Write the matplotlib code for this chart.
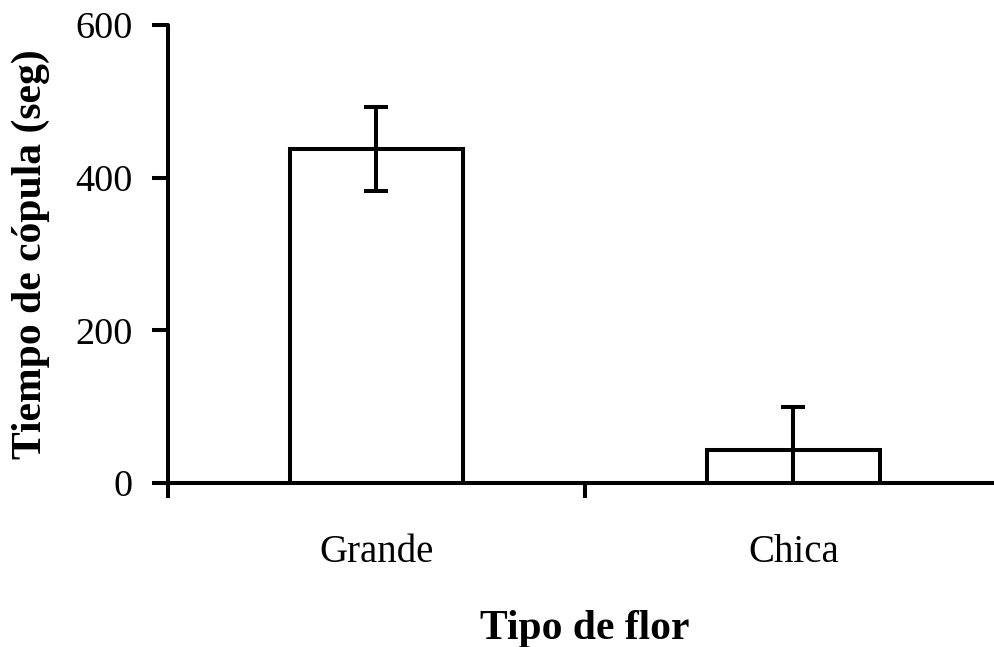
import matplotlib
matplotlib.use("Agg")
import matplotlib.pyplot as plt
from matplotlib.ticker import FixedLocator, NullFormatter, FixedFormatter

categories = ["Grande", "Chica"]
means = [437, 43]
errors = [55, 57]
y_ticks = [0, 200, 400, 600]

plt.rcParams["font.family"] = ["Liberation Serif", "DejaVu Serif"]

fig = plt.figure(figsize=(9.95, 6.47), dpi=100)
ax = fig.add_axes([0.1688, 0.2535, 0.838, 0.708])

lw = 2.9
x = list(range(len(categories)))
ax.bar(x, means, width=0.415, color="white", edgecolor="black", linewidth=lw, zorder=2)
ax.errorbar(x, means, yerr=errors, fmt="none", ecolor="black", elinewidth=lw,
            capsize=8.6, capthick=lw, zorder=3)

ax.set_xlim(-0.5, 1.5)
ax.set_ylim(0, 600)

for s in ["top", "right"]:
    ax.spines[s].set_visible(False)
for s in ["left", "bottom"]:
    ax.spines[s].set_linewidth(lw)
    ax.spines[s].set_capstyle("round")

ax.set_yticks(y_ticks)
ax.tick_params(axis="y", direction="out", length=11.5, width=lw, labelsize=27.5, pad=14)

ax.xaxis.set_major_locator(FixedLocator([-0.5, 0.5, 1.5]))
ax.xaxis.set_major_formatter(NullFormatter())
ax.xaxis.set_minor_locator(FixedLocator(x))
ax.xaxis.set_minor_formatter(FixedFormatter(categories))
ax.tick_params(axis="x", which="major", direction="out", length=11, width=lw)
ax.tick_params(axis="x", which="minor", length=0, labelsize=28, pad=37)

ax.set_xlabel("Tipo de flor", fontsize=30, fontweight="bold", labelpad=28)
ax.set_ylabel("Tiempo de cópula (seg)", fontsize=30, fontweight="bold", labelpad=18)

fig.savefig("out.png", dpi=100)
